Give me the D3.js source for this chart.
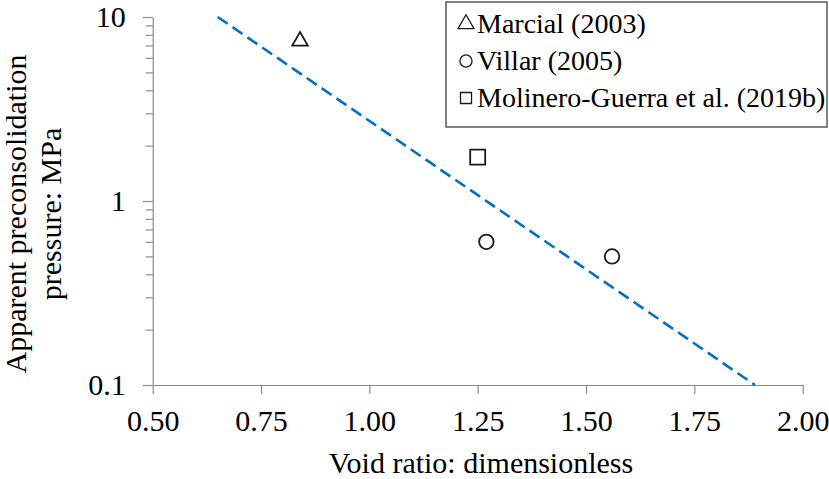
<!DOCTYPE html>
<html>
<head>
<meta charset="utf-8">
<script src="https://cdn.jsdelivr.net/npm/d3@7"></script>
<style>
  html, body { margin: 0; padding: 0; background: #fff; }
  svg { display: block; }
  text { font-family: "Liberation Serif", "Times New Roman", serif; fill: #000; }
</style>
</head>
<body>
<svg id="chart" width="829" height="479"></svg>
<script>
// ---- data ----
const xTicks = [0.50, 0.75, 1.00, 1.25, 1.50, 1.75, 2.00];
const yTicks = [0.1, 1, 10];
const yMinorTicks = [0.2, 0.3, 0.4, 0.5, 0.6, 0.7, 0.8, 0.9, 2, 3, 4, 5, 6, 7, 8, 9];

const seriesNames = ["Marcial (2003)", "Villar (2005)", "Molinero-Guerra et al. (2019b)"];
const seriesSymbols = ["triangle", "circle", "square"];
const marcialE = [0.84];
const marcialP = [7.4];
const villarE = [1.27, 1.56];
const villarP = [0.60, 0.50];
const molineroE = [1.25];
const molineroP = [1.73];

const fitE = [0.65, 1.89];
const fitP = [10, 0.1];

const xLabel = "Void ratio: dimensionless";
const yLabelLines = ["Apparent preconsolidation", "pressure: MPa"];

// ---- layout ----
const svg = d3.select("#chart");
const x = d3.scaleLinear().domain([0.5, 2.0]).range([152.7, 802.7]);
const y = d3.scaleLog().domain([0.1, 10]).range([385, 17]);
const axisColor = "#8c8c8c";

// x axis
const gx = svg.append("g").attr("transform", `translate(0,${y(0.1)})`)
  .call(d3.axisBottom(x).tickValues(xTicks).tickFormat(d3.format(".2f"))
    .tickSizeInner(9).tickSizeOuter(0).tickPadding(16));
gx.select(".domain").attr("stroke", axisColor).attr("stroke-width", 1.2);
gx.selectAll(".tick line").attr("stroke", axisColor).attr("stroke-width", 1.2);
gx.selectAll(".tick text").attr("font-size", 30).attr("font-family", "Liberation Serif").attr("fill", "#000");

// y minor ticks
const gyMinor = svg.append("g").attr("transform", `translate(${x(0.5)},0)`)
  .call(d3.axisLeft(y).tickValues(yMinorTicks).tickFormat("").tickSizeInner(7).tickSizeOuter(0));
gyMinor.select(".domain").remove();
gyMinor.selectAll(".tick line").attr("stroke", axisColor).attr("stroke-width", 1.2);

// y axis
const gy = svg.append("g").attr("transform", `translate(${x(0.5)},0)`)
  .call(d3.axisLeft(y).tickValues(yTicks).tickFormat(d3.format("~g"))
    .tickSizeInner(10).tickSizeOuter(0).tickPadding(17));
gy.select(".domain").attr("stroke", axisColor).attr("stroke-width", 1.2);
gy.selectAll(".tick line").attr("stroke", axisColor).attr("stroke-width", 1.2);
gy.selectAll(".tick text").attr("font-size", 30).attr("font-family", "Liberation Serif").attr("fill", "#000");

// fitted dashed line
const fitData = fitE.map((e, i) => [e, fitP[i]]);
svg.append("path")
  .datum(fitData)
  .attr("fill", "none")
  .attr("stroke", "#0070C0")
  .attr("stroke-width", 2.6)
  .attr("stroke-dasharray", "12,6")
  .attr("d", d3.line().x(d => x(d[0])).y(d => y(d[1])));

// points
const symbolType = { triangle: d3.symbolTriangle, circle: d3.symbolCircle, square: d3.symbolSquare };
const symbolSize = { triangle: 105, circle: 165, square: 225 };
const series = [
  { e: marcialE, p: marcialP, sym: seriesSymbols[0] },
  { e: villarE, p: villarP, sym: seriesSymbols[1] },
  { e: molineroE, p: molineroP, sym: seriesSymbols[2] }
];
series.forEach(s => {
  svg.append("g").selectAll("path")
    .data(s.e.map((e, i) => [e, s.p[i]]))
    .join("path")
    .attr("transform", d => `translate(${x(d[0])},${y(d[1])})`)
    .attr("d", d3.symbol().type(symbolType[s.sym]).size(symbolSize[s.sym]))
    .attr("fill", "#fff")
    .attr("stroke", "#1a1a1a")
    .attr("stroke-width", 1.8);
});

// legend
const lg = svg.append("g");
lg.append("rect").attr("x", 446).attr("y", 2).attr("width", 381).attr("height", 125)
  .attr("fill", "#fff").attr("stroke", "#5a5a5a").attr("stroke-width", 1.5);
const legSymSize = { triangle: 110, circle: 115, square: 121 };
seriesNames.forEach((name, i) => {
  const by = 33 + i * 37;
  lg.append("path")
    .attr("transform", `translate(466,${by - 9})`)
    .attr("d", d3.symbol().type(symbolType[seriesSymbols[i]]).size(legSymSize[seriesSymbols[i]]))
    .attr("fill", "none").attr("stroke", "#1a1a1a").attr("stroke-width", 1.3);
  lg.append("text").attr("x", 477).attr("y", by).attr("font-size", 28).text(name);
});

// axis titles
svg.append("text")
  .attr("x", 481).attr("y", 473)
  .attr("text-anchor", "middle").attr("font-size", 30)
  .text(xLabel);

const yt = svg.append("text")
  .attr("transform", "translate(0,214) rotate(-90)")
  .attr("text-anchor", "middle").attr("font-size", 30);
yLabelLines.forEach((t, i) => {
  yt.append("tspan").attr("x", 0).attr("y", 26 + i * 35).text(t);
});
</script>
</body>
</html>
